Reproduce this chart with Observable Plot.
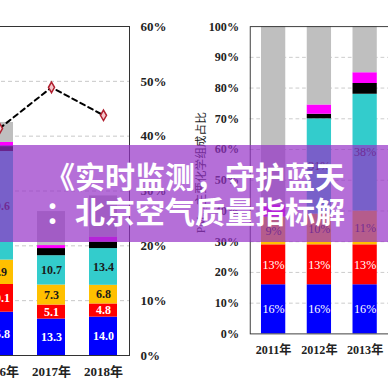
<!DOCTYPE html>
<html><head><meta charset="utf-8">
<script src="https://cdn.jsdelivr.net/npm/d3@7"></script>
<script src="https://cdn.jsdelivr.net/npm/@observablehq/plot@0.6"></script>
<style>
html,body{margin:0;padding:0;background:#fff;}
#wrap{position:relative;width:388px;height:388px;overflow:hidden;background:#fff;}
#left{position:absolute;left:-27px;top:0;}
#right{position:absolute;left:190px;top:0;}
#wrap svg, #wrap svg text{font-family:"Liberation Serif","Times New Roman","Noto Sans CJK SC",serif !important;}
#banner{position:absolute;left:0;top:145px;width:388px;height:97px;background:rgba(150,50,200,0.7);}
#title{position:absolute;left:45px;top:158px;color:#fff;font-family:"Noto Sans CJK SC",sans-serif;font-weight:bold;font-size:30px;line-height:35px;white-space:nowrap;}
</style></head><body>
<div id="wrap">
  <div id="left"></div>
  <div id="right"></div>
  <div id="banner"></div>
  <div id="title"><div>《实时监测，守护蓝天</div><div>：北京空气质量指标解</div></div>
</div>
<script>
// ---- data ----
const segments = ["seg1","seg2","seg3","seg4","seg5","seg6","seg7"];
const labelledSegments = ["seg1","seg2","seg3","seg4"];

const leftYears = ["2016年","2017年","2018年"];
const left2016 = [15.8, 10.1, 8.9, 39.6, 1.8, 1.5, 7.3];
const left2017 = [13.3, 5.1, 7.3, 10.7, 2.6, 1.1, 12.4];
const left2018 = [14.0, 4.8, 6.8, 13.4, 2.4, 1.8, 15.0];
const leftShare = [41.4, 48.9, 43.8];
const leftPctTicks = [0, 10, 20, 30, 40, 50, 60];

const rightYears = ["2011年","2012年","2013年"];
const right2011 = [16, 13, 9, 0, 0, 4, 58];
const right2012 = [16, 13, 10, 31, 1.5, 3, 25.5];
const right2013 = [16, 13, 11, 38, 3.5, 3.5, 15];
const rightTicks = [0,10,20,30,40,50,60,70,80,90,100];
const rightTitle = "PM₂.₅主要化学组成占比";

// ---- styles ----
const segColor = {seg1:"#0000ff", seg2:"#ff0000", seg3:"#ffc000", seg4:"#33cccc", seg5:"#000000", seg6:"#ff00ff", seg7:"#bfbfbf"};
const labelColor = {seg1:"#ffffff", seg2:"#ffffff", seg3:"#1a1a1a", seg4:"#1a1a1a"};
const pxFont = '"Liberation Serif","Times New Roman","Noto Sans CJK SC",serif';

function rows(years, series) {
  return years.flatMap((yr, i) => segments.map((s, j) => ({year: yr, seg: s, value: series[i][j]})));
}
const leftRows = rows(leftYears, [left2016, left2017, left2018]);
const rightRows = rows(rightYears, [right2011, right2012, right2013]);
const shareRows = leftYears.map((yr, i) => ({year: yr, share: leftShare[i]}));
const axisRatio = 120 / 60; // left axis units per percent on the right axis

const leftPlot = Plot.plot({
  width: 206, height: 388,
  marginLeft: 0, marginRight: 50, marginTop: 26, marginBottom: 33,
  x: {domain: leftYears, paddingInner: 0.46, paddingOuter: 0.23},
  y: {domain: [0, 120]},
  color: {type: "identity"},
  style: {fontFamily: pxFont, fontSize: "13px", fontWeight: "bold", background: "transparent", color: "#222"},
  marks: [
    Plot.ruleY(leftPctTicks.slice(1, -1).map(d => d * axisRatio), {stroke: "#c8c8c8", strokeDasharray: "4,3"}),
    Plot.barY(leftRows, Plot.stackY({x: "year", y: "value", fill: d => segColor[d.seg]})),
    Plot.text(leftRows, Plot.stackY({x: "year", y: "value",
      text: d => labelledSegments.includes(d.seg) ? d.value.toFixed(1) : null,
      fill: d => labelColor[d.seg] || "#000", fontSize: 12, fontWeight: "bold"})),
    Plot.line(shareRows, {x: "year", y: d => d.share * axisRatio, stroke: "#000", strokeWidth: 2, strokeDasharray: "5,4"}),
    Plot.dot(shareRows, {x: "year", y: d => d.share * axisRatio, symbol: "diamond", r: 3.2, fill: "#f5c8cc", stroke: "#b02030", strokeWidth: 1.5}),
    Plot.axisY({anchor: "right", ticks: leftPctTicks.map(d => d * axisRatio), tickFormat: d => (d / axisRatio) + "%", tickSize: 0, tickPadding: 11, label: null}),
    Plot.axisX({tickSize: 0, tickPadding: 11, label: null}),
    Plot.frame({stroke: "#333"})
  ]
});
document.getElementById("left").append(leftPlot);

const rightPlot = Plot.plot({
  width: 212, height: 388,
  marginLeft: 64, marginRight: 0, marginTop: 28, marginBottom: 31,
  x: {domain: rightYears, paddingInner: 0.47, paddingOuter: 0.245},
  y: {domain: [0, 100]},
  color: {type: "identity"},
  style: {fontFamily: pxFont, fontSize: "13px", fontWeight: "bold", background: "transparent", color: "#222"},
  marks: [
    Plot.ruleY(rightTicks.slice(1, -1), {stroke: "#c8c8c8", strokeDasharray: "4,3"}),
    Plot.barY(rightRows, Plot.stackY({x: "year", y: "value", fill: d => segColor[d.seg]})),
    Plot.text(rightRows, Plot.stackY({x: "year", y: "value",
      text: d => labelledSegments.includes(d.seg) && d.value > 0 ? d.value + "%" : null,
      fill: d => labelColor[d.seg] || "#000", fontSize: 13, fontWeight: "normal"})),
    Plot.axisY({anchor: "left", ticks: rightTicks, tickFormat: d => d + "%", tickSize: 0, tickPadding: 12, label: null}),
    Plot.axisX({tickSize: 0, tickPadding: 12, label: null}),
    Plot.text([rightTitle], {frameAnchor: "left", text: d => d, rotate: -90, dx: -52, dy: -8, fontSize: 12.5, fontWeight: "normal", fill: "#222", textAnchor: "middle"}),
    Plot.frame({stroke: "#333"})
  ]
});
document.getElementById("right").append(rightPlot);
</script>
</body></html>
